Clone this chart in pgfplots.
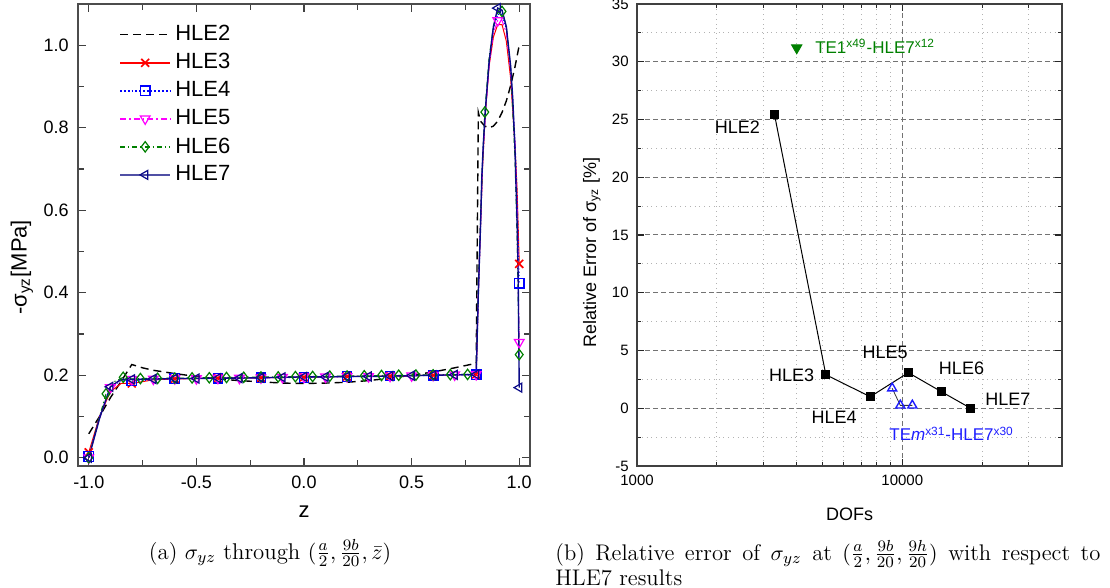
\documentclass[border=0pt]{standalone}
\usepackage{fontspec}
\usepackage{pgfplots}
\pgfplotsset{compat=1.18}
\newfontfamily\arial{Liberation Sans}
\definecolor{hred}{RGB}{255,0,0}
\definecolor{hblue}{RGB}{0,0,255}
\definecolor{hmag}{RGB}{255,0,255}
\definecolor{hgreen}{RGB}{0,128,0}
\definecolor{hnavy}{RGB}{10,10,135}
\definecolor{hnavyl}{RGB}{80,80,165}
\definecolor{tblue}{RGB}{30,30,255}
\begin{document}
\begin{tikzpicture}
\path[use as bounding box] (0,0) rectangle (555pt,-294pt);
% ---------------- left axis ----------------
\begin{axis}[
  at={(39pt,-2pt)}, anchor=north west,
  scale only axis, width=226pt, height=231pt,
  xmin=-1.05, xmax=1.05, ymin=-0.02, ymax=1.1,
  xtick={-1,-0.5,0,0.5,1}, xticklabels={-1.0,-0.5,0.0,0.5,1.0},
  ytick={0,0.2,0.4,0.6,0.8,1.0}, yticklabels={0.0,0.2,0.4,0.6,0.8,1.0},
  minor xtick={-0.75,-0.25,0.25,0.75}, minor ytick={0.1,0.3,0.5,0.7,0.9},
  tick align=inside,
  major tick length=4pt, minor tick length=3pt,
  every tick/.style={black!75, line width=0.6pt},
  axis line style={black!70, line width=0.8pt},
  xticklabel style={font=\arial\fontsize{9}{10}\selectfont, anchor=base, inner sep=0pt, yshift=-11.5pt},
  yticklabel style={font=\arial\fontsize{9}{10}\selectfont, anchor=east, inner sep=0pt, xshift=-4.5pt},
  xlabel={z}, ylabel={-σ\textsubscript{yz}[MPa]},
  label style={font=\arial\fontsize{11}{13}\selectfont},
  xlabel style={at={(axis description cs:0.5,0)}, anchor=center, yshift=-23pt},
  ylabel style={at={(axis description cs:-0.124,0.43)}, anchor=center},
  legend style={at={(axis description cs:0.09,0.965)}, anchor=north west, draw=none, fill=none,
    font=\arial\fontsize{11}{13}\selectfont, inner sep=0pt, nodes={inner ysep=2.45pt}},
  legend cell align=left,
]
\addlegendimage{legend image code/.code={\draw[draw=black, line width=0.8pt, dash pattern=on 4pt off 2.5pt] (0pt,0pt) -- (25pt,0pt);}}
\addlegendentry{HLE2}
\addlegendimage{legend image code/.code={\draw[draw=hred, line width=0.9pt] (0pt,0pt) -- (25pt,0pt);
  \draw[draw=hred, line width=0.8pt, mark size=2.8pt] plot[mark=x, only marks] coordinates {(12.5pt,0pt)};}}
\addlegendentry{HLE3}
\addlegendimage{legend image code/.code={\draw[draw=hblue, line width=0.9pt, densely dotted] (0pt,0pt) -- (25pt,0pt);
  \draw[draw=hblue, line width=0.6pt, mark size=2.4pt] plot[mark=square, only marks] coordinates {(12.5pt,0pt)};}}
\addlegendentry{HLE4}
\addlegendimage{legend image code/.code={\draw[draw=hmag, line width=0.9pt, dash pattern=on 3pt off 1.5pt on 0.8pt off 1.5pt] (0pt,0pt) -- (25pt,0pt);
  \draw[draw=hmag, line width=0.6pt, mark size=2.8pt] plot[mark=triangle, only marks, mark options={rotate=180}] coordinates {(12.5pt,0pt)};}}
\addlegendentry{HLE5}
\addlegendimage{legend image code/.code={\draw[draw=hgreen, line width=0.9pt, dash pattern=on 2.5pt off 1.5pt on 0.6pt off 1.5pt] (0pt,0pt) -- (25pt,0pt);
  \draw[draw=hgreen, line width=0.6pt, mark size=2.6pt] plot[mark=diamond, only marks] coordinates {(12.5pt,0pt)};}}
\addlegendentry{HLE6}
\addlegendimage{legend image code/.code={\draw[draw=hnavyl, line width=1.1pt] (0pt,0pt) -- (25pt,0pt);
  \draw[draw=hnavy, line width=0.6pt, mark size=2.6pt] plot[mark=triangle, only marks, mark options={rotate=90}] coordinates {(12.5pt,0pt)};}}
\addlegendentry{HLE7}
% HLE2
\addplot[black, line width=0.7pt, dash pattern=on 4pt off 2.5pt, forget plot] coordinates {
(-1.0,0.058) (-0.95,0.10) (-0.9,0.145) (-0.85,0.185) (-0.8,0.226) (-0.75,0.218) (-0.7,0.212)
(-0.6,0.204) (-0.5,0.197) (-0.4,0.191) (-0.3,0.187) (-0.2,0.184) (-0.1,0.181) (0.0,0.180)
(0.1,0.181) (0.2,0.183) (0.3,0.187) (0.4,0.193) (0.5,0.200) (0.6,0.208) (0.7,0.218) (0.8,0.229)
(0.81,0.837) (0.82,0.816) (0.84,0.804) (0.86,0.800) (0.88,0.804) (0.90,0.816) (0.92,0.837)
(0.94,0.865) (0.96,0.902) (0.98,0.947) (1.0,1.0)};
% HLE3
\addplot[hred, line width=0.5pt, forget plot] coordinates {
(-1.0,0.013) (-0.95,0.10) (-0.9,0.16) (-0.85,0.18) (-0.8,0.180) (-0.7,0.189) (-0.6,0.191)
(-0.4,0.193) (-0.2,0.194) (0.0,0.195) (0.2,0.197) (0.4,0.198) (0.6,0.200) (0.8,0.202)
(0.8,0.20) (0.81,0.40) (0.82,0.56) (0.83,0.71) (0.842,0.83) (0.86,0.95) (0.88,1.02) (0.90,1.05)
(0.92,1.05) (0.94,1.01) (0.96,0.92) (0.98,0.76) (0.99,0.65) (1.0,0.47)};
\addplot[hred, only marks, mark=x, mark size=2.8pt, mark options={line width=0.8pt}, forget plot] coordinates {
(-1.0,0.013) (-0.8,0.180) (-0.6,0.191) (-0.4,0.193) (-0.2,0.194) (0.0,0.195) (0.2,0.197)
(0.4,0.198) (0.6,0.200) (0.8,0.202) (1.0,0.47)};
% HLE4
\addplot[hblue, line width=0.6pt, densely dotted, forget plot] coordinates {
(-1.0,0.003) (-0.95,0.10) (-0.9,0.168) (-0.85,0.188) (-0.8,0.186) (-0.6,0.192) (-0.4,0.193)
(-0.2,0.194) (0.0,0.195) (0.2,0.197) (0.4,0.198) (0.6,0.200) (0.8,0.201)
(0.8,0.20) (0.81,0.40) (0.82,0.56) (0.83,0.72) (0.842,0.835) (0.86,0.96) (0.88,1.04) (0.90,1.075)
(0.92,1.075) (0.94,1.04) (0.96,0.94) (0.98,0.77) (0.99,0.63) (1.0,0.423)};
\addplot[hblue, only marks, mark=square, mark size=2.4pt, mark options={line width=0.6pt}, forget plot] coordinates {
(-1.0,0.003) (-0.8,0.186) (-0.6,0.192) (-0.4,0.193) (-0.2,0.194) (0.0,0.195) (0.2,0.197)
(0.4,0.198) (0.6,0.200) (0.8,0.201) (1.0,0.423)};
% HLE5
\addplot[hmag, line width=0.5pt, dash pattern=on 3pt off 1.5pt on 0.8pt off 1.5pt, forget plot] coordinates {
(-1.0,0.0) (-0.95,0.095) (-0.9,0.17) (-0.85,0.19) (-0.8,0.19) (-0.7,0.191) (-0.6,0.192)
(-0.5,0.192) (-0.4,0.193) (-0.3,0.193) (-0.2,0.194) (-0.1,0.195) (0.0,0.196) (0.1,0.196)
(0.2,0.197) (0.3,0.197) (0.4,0.198) (0.5,0.199) (0.6,0.200) (0.7,0.201) (0.8,0.202)
(0.8,0.20) (0.81,0.40) (0.82,0.56) (0.83,0.72) (0.842,0.83) (0.86,0.95) (0.88,1.03) (0.90,1.06)
(0.92,1.06) (0.94,1.03) (0.96,0.94) (0.98,0.76) (0.99,0.60) (1.0,0.28)};
\addplot[hmag, only marks, mark=triangle, mark size=2.8pt, mark options={rotate=180, line width=0.6pt}, forget plot] coordinates {
(-1.0,0.0) (-0.9,0.17) (-0.8,0.19) (-0.7,0.191) (-0.6,0.192) (-0.5,0.192) (-0.4,0.193)
(-0.3,0.193) (-0.2,0.194) (-0.1,0.195) (0.0,0.196) (0.1,0.196) (0.2,0.197) (0.3,0.197)
(0.4,0.198) (0.5,0.199) (0.6,0.200) (0.7,0.201) (0.8,0.202) (0.9,1.06) (1.0,0.28)};
% HLE6
\addplot[hgreen, line width=0.5pt, dash pattern=on 2.5pt off 1.5pt on 0.6pt off 1.5pt, forget plot] coordinates {
(-1.0,0.0) (-0.96,0.08) (-0.92,0.155) (-0.88,0.185) (-0.84,0.195) (-0.8,0.191) (-0.76,0.192)
(-0.6,0.193) (-0.4,0.1945) (-0.2,0.1957) (0.0,0.197) (0.2,0.198) (0.4,0.1997) (0.6,0.201)
(0.76,0.202) (0.8,0.202)
(0.8,0.21) (0.81,0.42) (0.82,0.58) (0.83,0.72) (0.84,0.838) (0.86,0.97) (0.88,1.045) (0.90,1.08)
(0.92,1.082) (0.94,1.045) (0.96,0.945) (0.98,0.73) (0.99,0.53) (1.0,0.25)};
\addplot[hgreen, only marks, mark=diamond, mark size=2.6pt, mark options={line width=0.6pt}, forget plot] coordinates {
(-1.0,0.0) (-0.92,0.155) (-0.84,0.195) (-0.76,0.192) (-0.68,0.1925) (-0.60,0.193) (-0.52,0.1936)
(-0.44,0.194) (-0.36,0.1946) (-0.28,0.195) (-0.20,0.1957) (-0.12,0.196) (-0.04,0.1967)
(0.04,0.197) (0.12,0.1978) (0.20,0.198) (0.28,0.1988) (0.36,0.1994) (0.44,0.200) (0.52,0.2004)
(0.60,0.201) (0.68,0.2015) (0.76,0.202) (0.84,0.838) (0.92,1.082) (1.0,0.25)};
% HLE7
\addplot[hnavy, line width=0.7pt, forget plot] coordinates {
(-1.0,0.0) (-0.95,0.095) (-0.9,0.172) (-0.85,0.19) (-0.8,0.19) (-0.7,0.191) (-0.6,0.192)
(-0.5,0.192) (-0.4,0.193) (-0.3,0.193) (-0.2,0.194) (-0.1,0.195) (0.0,0.196) (0.1,0.196)
(0.2,0.197) (0.3,0.197) (0.4,0.198) (0.5,0.199) (0.6,0.200) (0.7,0.201) (0.8,0.202)
(0.81,0.40) (0.815,0.48) (0.82,0.56) (0.826,0.68) (0.833,0.76) (0.842,0.838) (0.86,0.96)
(0.88,1.045) (0.90,1.09) (0.92,1.085) (0.94,1.045) (0.96,0.95) (0.97,0.87) (0.98,0.75)
(0.99,0.57) (0.995,0.44) (1.0,0.17)};
\addplot[hnavy, only marks, mark=triangle, mark size=2.6pt, mark options={rotate=90, line width=0.6pt}, forget plot] coordinates {
(-1.0,0.0) (-0.9,0.172) (-0.8,0.19) (-0.7,0.191) (-0.6,0.192) (-0.5,0.192) (-0.4,0.193)
(-0.3,0.193) (-0.2,0.194) (-0.1,0.195) (0.0,0.196) (0.1,0.196) (0.2,0.197) (0.3,0.197)
(0.4,0.198) (0.5,0.199) (0.6,0.200) (0.7,0.201) (0.8,0.202) (0.9,1.09) (1.0,0.17)};
\end{axis}
% ---------------- right axis ----------------
\begin{axis}[
  at={(318.5pt,-2pt)}, anchor=north west,
  scale only axis, width=212.5pt, height=231pt,
  xmode=log, log basis x=10, xmin=1000, xmax=40000, ymin=-5, ymax=35,
  xtick={1000,10000}, xticklabels={1000,10000},
  minor xtick={2000,3000,4000,5000,6000,7000,8000,9000,20000,30000},
  ytick={-5,0,5,10,15,20,25,30,35}, yticklabels={-5,0,5,10,15,20,25,30,35},
  minor ytick={-2.5,2.5,7.5,12.5,17.5,22.5,27.5,32.5},
  grid=both,
  major grid style={black!55, dash pattern=on 2.5pt off 1.5pt, line width=0.5pt},
  minor grid style={black!30, dotted, line width=0.5pt},
  tick align=inside,
  major tick length=3.5pt, minor tick length=2pt,
  every tick/.style={black!85, line width=0.6pt},
  axis line style={black!75, line width=1pt},
  xticklabel style={font=\arial\fontsize{7.5}{9}\selectfont, anchor=base, inner sep=0pt, yshift=-9.5pt},
  yticklabel style={font=\arial\fontsize{7.5}{9}\selectfont, anchor=east, inner sep=0pt, xshift=-4pt},
  xlabel={DOFs}, ylabel={Relative Error of σ\textsubscript{yz} [\%]},
  label style={font=\arial\fontsize{9}{11}\selectfont},
  xlabel style={at={(axis description cs:0.5,0)}, anchor=center, yshift=-24pt},
  ylabel style={at={(axis description cs:-0.106,0.463)}, anchor=center},
]
\addplot[black, line width=0.5pt, mark=square*, mark size=2pt] coordinates {
(3300,25.4) (5150,2.9) (7570,1.0) (10540,3.08) (14050,1.43) (18100,0.0)};
\addplot[black!80, line width=0.4pt, mark=triangle, mark size=2.6pt, mark options={tblue, solid, line width=0.7pt}] coordinates {
(9160,1.73) (9830,0.25) (10910,0.25)};
\addplot[only marks, mark=triangle*, mark size=3pt, mark options={rotate=180, fill=hgreen, draw=hgreen}] coordinates {(4000,31.2)};
\node[font=\arial\fontsize{9}{11}\selectfont] at (axis cs:2390,24.35) {HLE2};
\node[font=\arial\fontsize{9}{11}\selectfont] at (axis cs:3830,2.88) {HLE3};
\node[font=\arial\fontsize{9}{11}\selectfont] at (axis cs:5530,-0.76) {HLE4};
\node[font=\arial\fontsize{9}{11}\selectfont] at (axis cs:8620,4.87) {HLE5};
\node[font=\arial\fontsize{9}{11}\selectfont] at (axis cs:16720,3.48) {HLE6};
\node[font=\arial\fontsize{9}{11}\selectfont] at (axis cs:25000,0.8) {HLE7};
\node[font=\arial\fontsize{8.5}{10}\selectfont, text=hgreen] at (axis cs:7900,31.36) {TE1\textsuperscript{x49}-HLE7\textsuperscript{x12}};
\node[font=\arial\fontsize{8.5}{10}\selectfont, text=tblue] at (axis cs:15340,-2.23) {TE\textit{m}\textsuperscript{x31}-HLE7\textsuperscript{x30}};
\end{axis}
% ---------------- captions ----------------
\node[font=\fontsize{11.4}{12.5}\selectfont] at (135pt,-276.5pt) {(a) $\sigma_{yz}$ through $(\frac{a}{2},\frac{9b}{20},\bar{z})$};
\node[anchor=north west, text width=272.5pt, align=justify, inner sep=0pt, font=\fontsize{11.3}{12.5}\selectfont] at (277.5pt,-270pt)
  {(b) Relative error of $\sigma_{yz}$ at $(\frac{a}{2},\frac{9b}{20},\frac{9h}{20})$ with respect to\linebreak HLE7 results};
\end{tikzpicture}
\end{document}
